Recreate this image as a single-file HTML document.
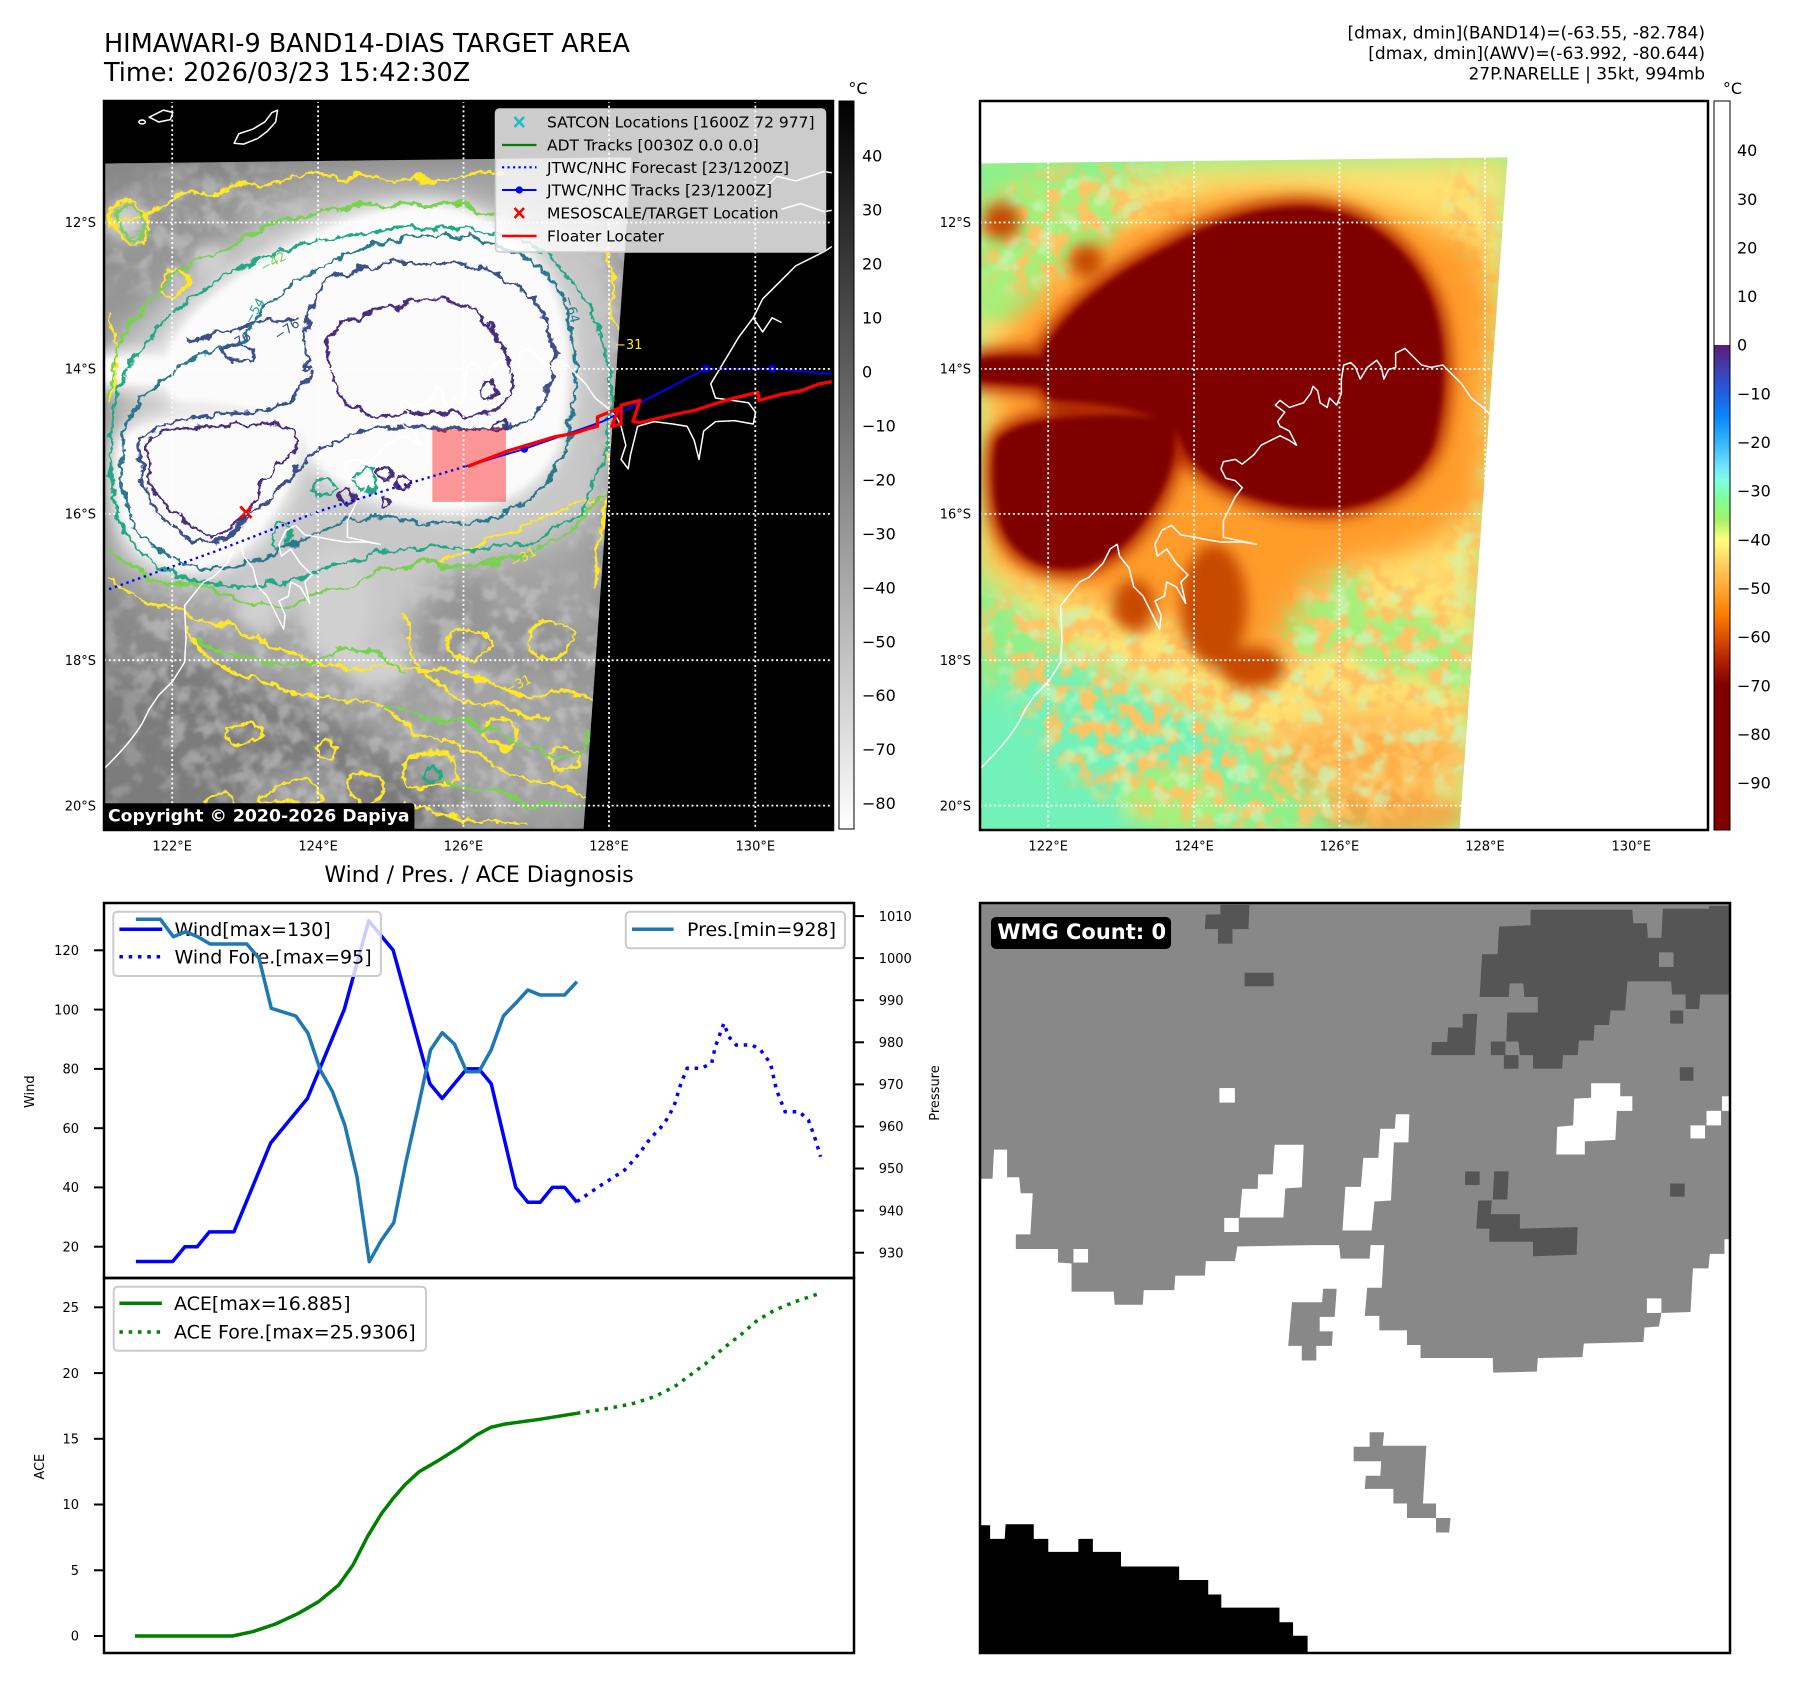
<!DOCTYPE html>
<html><head><meta charset="utf-8"><style>
html,body{margin:0;padding:0;background:#fff;}
svg{display:block;}
text{font-family:"DejaVu Sans","Liberation Sans",sans-serif;}
</style></head><body>
<svg xmlns="http://www.w3.org/2000/svg" width="1797" height="1690" viewBox="0 0 1797 1690">
<defs>
  <filter id="b30" x="-40%" y="-40%" width="180%" height="180%"><feGaussianBlur stdDeviation="30"/></filter>
  <filter id="b15" x="-40%" y="-40%" width="180%" height="180%"><feGaussianBlur stdDeviation="15"/></filter>
  <filter id="b6" x="-20%" y="-20%" width="140%" height="140%"><feGaussianBlur stdDeviation="6"/></filter>
  <filter id="wig" x="-10%" y="-10%" width="120%" height="120%">
    <feTurbulence type="fractalNoise" baseFrequency="0.014" numOctaves="2" seed="3" result="n"/>
    <feDisplacementMap in="SourceGraphic" in2="n" scale="50" xChannelSelector="R" yChannelSelector="G" result="d"/>
    <feTurbulence type="fractalNoise" baseFrequency="0.07" numOctaves="2" seed="8" result="n2"/>
    <feDisplacementMap in="d" in2="n2" scale="16" xChannelSelector="R" yChannelSelector="G"/>
  </filter>
  <filter id="wig2" x="-10%" y="-10%" width="120%" height="120%">
    <feTurbulence type="fractalNoise" baseFrequency="0.03" numOctaves="2" seed="9" result="n"/>
    <feDisplacementMap in="SourceGraphic" in2="n" scale="30" xChannelSelector="R" yChannelSelector="G" result="d"/>
    <feTurbulence type="fractalNoise" baseFrequency="0.08" numOctaves="2" seed="2" result="n2"/>
    <feDisplacementMap in="d" in2="n2" scale="12" xChannelSelector="R" yChannelSelector="G"/>
  </filter>
  <filter id="speckO" x="0" y="0" width="1" height="1">
    <feTurbulence type="fractalNoise" baseFrequency="0.028" numOctaves="3" seed="5"/>
    <feColorMatrix type="matrix" values="0 0 0 0 1  0 0 0 0 0.55  0 0 0 0 0.12  6 0 0 0 -2.7"/>
    <feGaussianBlur stdDeviation="3"/>
  </filter>
  <filter id="speckG" x="0" y="0" width="1" height="1">
    <feTurbulence type="fractalNoise" baseFrequency="0.024" numOctaves="3" seed="11"/>
    <feColorMatrix type="matrix" values="0 0 0 0 0.58  0 0 0 0 0.94  0 0 0 0 0.5  5 0 0 0 -2.6"/>
    <feGaussianBlur stdDeviation="3"/>
  </filter>
  <filter id="speckL" x="0" y="0" width="1" height="1">
    <feTurbulence type="fractalNoise" baseFrequency="0.028" numOctaves="3" seed="5"/>
    <feColorMatrix type="matrix" values="0 0 0 0 0.68  0 0 0 0 0.68  0 0 0 0 0.68  5 0 0 0 -2.4"/>
    <feGaussianBlur stdDeviation="3"/>
  </filter>
  <filter id="speckD" x="0" y="0" width="1" height="1">
    <feTurbulence type="fractalNoise" baseFrequency="0.024" numOctaves="3" seed="11"/>
    <feColorMatrix type="matrix" values="0 0 0 0 0.42  0 0 0 0 0.42  0 0 0 0 0.42  5 0 0 0 -2.5"/>
    <feGaussianBlur stdDeviation="3"/>
  </filter>
  <mask id="mSouth" maskUnits="userSpaceOnUse" x="-300" y="-300" width="2200" height="2200">
    <g fill="#fff" filter="url(#b30)">
      <ellipse cx="620" cy="1260" rx="520" ry="300"/>
      <ellipse cx="1040" cy="600" rx="90" ry="450"/>
      <ellipse cx="250" cy="300" rx="250" ry="150"/>
      <ellipse cx="150" cy="1150" rx="150" ry="120"/>
    </g>
  </mask>
  <mask id="mLow" maskUnits="userSpaceOnUse" x="-300" y="-300" width="2200" height="2200">
    <g fill="#fff" filter="url(#b30)">
      <ellipse cx="350" cy="1350" rx="450" ry="250"/>
      <ellipse cx="800" cy="1450" rx="300" ry="130"/>
      <ellipse cx="300" cy="230" rx="300" ry="80"/>
    </g>
  </mask>
  <linearGradient id="g1" x1="0" y1="0" x2="0" y2="1">
    <stop offset="0" stop-color="#000"/><stop offset="1" stop-color="#fff"/>
  </linearGradient>
  <linearGradient id="g2" x1="0" y1="0" x2="0" y2="1">
    <stop offset="0" stop-color="#fff"/><stop offset="0.3345" stop-color="#fff"/>
    <stop offset="0.3346" stop-color="#5b1a7a"/><stop offset="0.368" stop-color="#3f3fb0"/>
    <stop offset="0.4014" stop-color="#1f5fe0"/><stop offset="0.4347" stop-color="#0a88ff"/>
    <stop offset="0.4681" stop-color="#35b5ff"/><stop offset="0.5015" stop-color="#70e4ff"/>
    <stop offset="0.5215" stop-color="#80ffe0"/><stop offset="0.5482" stop-color="#80ff90"/>
    <stop offset="0.5749" stop-color="#a8f068"/><stop offset="0.6016" stop-color="#ffff80"/>
    <stop offset="0.635" stop-color="#ffd060"/><stop offset="0.6683" stop-color="#ffa838"/>
    <stop offset="0.7017" stop-color="#ff8000"/><stop offset="0.7351" stop-color="#e05000"/>
    <stop offset="0.7685" stop-color="#b02000"/><stop offset="0.8019" stop-color="#800000"/>
    <stop offset="1" stop-color="#800000"/>
  </linearGradient>
  <clipPath id="clipL"><rect x="104" y="101" width="729" height="729"/></clipPath>
  <clipPath id="clipR"><rect x="980" y="101" width="728" height="729"/></clipPath>
  <clipPath id="clipW"><rect x="104" y="903" width="750" height="375"/></clipPath>
  <clipPath id="clipA"><rect x="104" y="1278" width="750" height="375"/></clipPath>
  <clipPath id="clipBR"><rect x="980" y="903" width="750" height="750"/></clipPath>
  <clipPath id="imgClip"><polygon points="0,143 1122,130 1020,1560 0,1560"/></clipPath>

  <path id="zHaloY" d="M0,430 C100,300 250,180 450,150 L1130,130 L1060,1050 C1045,1300 1035,1480 1020,1560 L820,1560 C720,1460 620,1360 470,1300 C320,1250 170,1160 70,1060 L0,1010 Z"/>
  <path id="zHaloO" d="M40,520 C160,380 310,260 500,210 C700,180 900,220 1060,330 L1090,430 L1065,860 C1000,940 900,980 800,990 C700,1000 640,1100 630,1220 C560,1180 460,1130 350,1090 C220,1050 110,1030 30,990 Z"/>
  <g id="zGreen">
    <ellipse cx="710" cy="1080" rx="120" ry="110"/>
    <ellipse cx="900" cy="1160" rx="110" ry="70"/>
    <ellipse cx="1000" cy="1200" rx="60" ry="60"/>
    <ellipse cx="420" cy="1490" rx="120" ry="70"/>
    <ellipse cx="150" cy="280" rx="160" ry="110"/>
    <ellipse cx="60" cy="420" rx="80" ry="60"/>
  </g>
  <g id="zBrown">
    <ellipse cx="500" cy="1080" rx="70" ry="130"/>
    <ellipse cx="580" cy="1210" rx="70" ry="45"/>
    <ellipse cx="330" cy="1080" rx="45" ry="55"/>
    <circle cx="50" cy="265" r="40"/>
    <circle cx="230" cy="350" r="35"/>
  </g>
  <g id="zCore">
    <path d="M150,520 C200,440 300,370 400,320 C480,275 580,235 690,235 C800,238 900,305 950,405 C995,490 995,640 965,740 C935,815 855,865 760,875 C660,880 580,855 520,825 C470,795 430,760 420,700 C340,660 250,650 160,645 C120,620 120,570 150,520 Z"/>
    <path d="M40,730 C75,690 160,680 270,676 C350,676 405,682 420,702 C420,770 400,830 360,888 C318,955 258,1002 190,1002 C112,1002 55,955 40,878 C30,820 30,770 40,730 Z"/>
    <path d="M0,558 C60,548 150,548 205,562 L195,622 C130,614 60,610 0,605 Z"/>
  </g>
  <path id="zCoast" d="M0,1430 C30,1400 60,1370 85,1330 L100,1300 L120,1270 L150,1240 L175,1200 L178,1150 L175,1080 L195,1055 L215,1030 L235,1020 L265,990 L280,960 L295,950 L300,975 L320,1000 L330,1040 L350,1060 L365,1090 L385,1130 L388,1100 L375,1070 L395,1060 L400,1030 L420,1040 L440,1075 L430,1030 L445,1015 L420,990 L400,960 L380,975 L375,950 L390,920 L410,910 L430,930 L460,935 L485,940 L515,945 L560,945 L590,950 L520,935 L520,900 L535,870 L545,850 L560,830 L545,815 L525,810 L515,790 L520,775 L545,770 L560,780 L585,760 L600,740 L620,730 L640,720 L660,730 L675,740 L660,710 L640,700 L635,690 L650,670 L630,655 L640,645 L660,660 L690,650 L705,630 L710,615 L720,625 L725,650 L740,660 L745,640 L760,655 L770,630 L770,600 L775,570 L790,565 L800,575 L810,600 L825,575 L845,560 L855,575 L860,600 L870,580 L885,575 L885,545 L905,535 L920,550 L940,570 L960,575 L985,570 L1005,590 L1025,610 L1045,640 L1070,660 L1090,680 L1100,700 L1110,740 L1100,770 L1115,790 L1120,760 L1135,700 L1170,690 L1210,695 L1240,700 L1255,730 L1265,770 L1275,710 L1300,690 L1340,688 L1380,695 L1385,670 L1370,650 L1300,640 L1290,610 L1320,560 L1350,510 L1380,470 L1400,430 L1440,390 L1470,360 L1500,345 L1530,330 L1560,310"/>
</defs>

<rect x="0" y="0" width="1797" height="1690" fill="#fff"/>

<text x="104" y="52" font-size="25.5" fill="#000">HIMAWARI-9 BAND14-DIAS TARGET AREA</text>
<text x="104" y="81" font-size="25.5" fill="#000">Time: 2026/03/23 15:42:30Z</text>
<g font-size="17" fill="#000" text-anchor="end">
  <text x="1705" y="38.3">[dmax, dmin](BAND14)=(-63.55, -82.784)</text>
  <text x="1705" y="58.9">[dmax, dmin](AWV)=(-63.992, -80.644)</text>
  <text x="1705" y="79.5">27P.NARELLE | 35kt, 994mb</text>
</g>

<!-- ================= TOP-LEFT MAP ================= -->
<g clip-path="url(#clipL)">
  <rect x="104" y="101" width="729" height="729" fill="#000"/>
  <g transform="translate(102,96) scale(0.4719)">
    <g clip-path="url(#imgClip)">
      <rect x="0" y="0" width="1600" height="1600" fill="#898989"/>
      <ellipse cx="230" cy="1430" rx="330" ry="230" fill="#7c7c7c" filter="url(#b30)"/>
      <ellipse cx="700" cy="1480" rx="200" ry="80" fill="#7a7a7a" filter="url(#b30)"/>
      <use href="#zHaloY" fill="#a2a2a2" filter="url(#b30)"/>
      <use href="#zGreen" fill="#969696" filter="url(#b15)"/>
      <rect x="0" y="0" width="1130" height="1560" filter="url(#speckL)" mask="url(#mSouth)" opacity="0.45"/>
      <rect x="0" y="0" width="1130" height="1560" filter="url(#speckD)" mask="url(#mLow)" opacity="0.5"/>
      <use href="#zHaloO" fill="#c8c8c8" filter="url(#b30)"/>
      <use href="#zBrown" fill="#d0d0d0" filter="url(#b15)"/>
      <use href="#zCore" fill="#ececec" stroke="#ececec" stroke-width="36" filter="url(#b15)"/>
      <use href="#zCore" fill="#fbfbfb" filter="url(#b6)"/>
      <g fill="none" stroke-width="6" stroke-linejoin="round">
        <g stroke="#fde725" filter="url(#wig)">
          <path d="M10,290 C80,250 180,200 300,190 C420,180 520,150 640,170 C720,180 780,160 840,165"/>
          <path d="M10,1010 C80,1070 160,1100 230,1110 C330,1150 420,1200 520,1210 C620,1220 700,1190 800,1240 C880,1270 980,1260 1060,1290"/>
          <path d="M180,1130 C220,1200 300,1240 400,1260 C500,1290 560,1250 620,1320 C680,1380 760,1360 820,1420 C900,1470 980,1450 1040,1480"/>
          <path d="M1070,330 C1090,450 1100,600 1080,750 C1070,850 1060,950 1050,1050"/>
          <path d="M700,1000 C760,960 840,950 900,900 C950,860 1000,880 1060,860"/>
          <path d="M30,450 C40,550 30,600 20,650"/>
          <path d="M640,1500 C700,1530 800,1520 900,1540"/>
          <path d="M640,1100 C660,1180 700,1250 760,1280 C820,1300 880,1290 950,1320"/>
          <ellipse cx="60" cy="270" rx="45" ry="40"/>
          <ellipse cx="400" cy="1480" rx="60" ry="25"/>
          <ellipse cx="700" cy="1430" rx="60" ry="40"/>
          <ellipse cx="560" cy="1470" rx="40" ry="30"/>
          <ellipse cx="850" cy="1350" rx="40" ry="30"/>
          <ellipse cx="300" cy="1350" rx="40" ry="30"/>
          <ellipse cx="950" cy="1150" rx="50" ry="40"/>
          <ellipse cx="150" cy="400" rx="30" ry="25"/>
          <ellipse cx="780" cy="1160" rx="40" ry="30"/>
          <ellipse cx="480" cy="1380" rx="25" ry="20"/>
          <ellipse cx="980" cy="1400" rx="35" ry="25"/>
          <ellipse cx="250" cy="1500" rx="30" ry="20"/>
        </g>
        <g stroke="#7ad151" filter="url(#wig)">
          <path d="M15,640 C30,500 120,380 230,330 C330,280 450,240 600,230 C700,225 780,230 840,240"/>
          <path d="M15,960 C120,1040 260,1070 380,1080 C480,1060 560,1000 640,1000 C720,990 800,1010 880,980 C960,950 1040,900 1080,820"/>
          <path d="M200,1150 C300,1200 400,1230 500,1180 C560,1160 600,1200 650,1230"/>
          <path d="M600,1300 C700,1330 800,1320 900,1380 C960,1420 1000,1400 1040,1350"/>
          <path d="M700,1450 C800,1480 900,1500 1030,1510"/>
          <ellipse cx="60" cy="270" rx="35" ry="30"/>
        </g>
        <g stroke="#22a884" filter="url(#wig2)">
          <path d="M20,700 C30,540 180,400 380,330 C540,280 720,260 880,300 C980,340 1050,440 1075,580 C1085,720 1060,840 980,910 C880,980 760,950 640,960 C520,970 420,1040 300,1040 C180,1040 60,990 30,880 C20,820 20,760 20,700 Z"/>
          <ellipse cx="470" cy="830" rx="25" ry="15"/>
          <ellipse cx="560" cy="810" rx="20" ry="25"/>
          <ellipse cx="380" cy="930" rx="20" ry="30"/>
          <ellipse cx="700" cy="1440" rx="20" ry="15"/>
        </g>
        <g stroke="#2a788e" filter="url(#wig2)">
          <path d="M40,760 C40,640 160,560 300,520 C340,420 480,330 640,300 C780,280 900,320 960,400 C1010,480 1010,620 990,720 C960,830 880,890 780,905 C680,915 600,880 520,900 C420,930 350,1000 250,1000 C140,1000 60,930 45,850 C40,820 40,790 40,760 Z"/>
        </g>
        <g stroke="#3b4f8a" filter="url(#wig2)">
          <path d="M75,720 C110,690 200,680 300,670 C380,665 420,640 440,590 C420,520 420,450 480,390 C560,350 680,345 780,360 C880,380 950,450 960,540 C960,620 930,680 870,700 C800,720 720,700 640,700 C560,700 500,730 440,760 C400,820 340,860 300,900 C260,960 200,960 150,910 C100,880 80,820 75,720 Z"/>
          <path d="M180,520 C250,500 330,480 420,470"/>
          <ellipse cx="290" cy="545" rx="35" ry="16"/>
        </g>
        <g stroke="#472d7b" filter="url(#wig2)">
          <path d="M480,510 C520,470 600,450 680,430 C760,420 820,460 850,540 C880,600 880,650 820,670 C760,690 700,650 640,680 C560,690 500,650 490,600 C480,570 475,540 480,510 Z"/>
          <path d="M100,720 C160,700 250,700 330,695 C400,690 420,720 410,740 C380,780 330,820 310,880 C280,920 240,950 200,920 C160,880 110,860 100,800 C95,770 95,740 100,720 Z"/>
          <circle cx="520" cy="850" r="14"/><circle cx="600" cy="800" r="12"/>
          <circle cx="640" cy="820" r="16"/><circle cx="600" cy="860" r="12"/>
          <circle cx="820" cy="620" r="18"/><circle cx="840" cy="700" r="14"/>
        </g>
      </g>
    </g>
    <use href="#zCoast" fill="none" stroke="#fff" stroke-width="3.2" stroke-linejoin="round"/>
    <g fill="none" stroke="#fff" stroke-width="3.2" stroke-linejoin="round">
      <path d="M280,100 L290,80 L320,70 L345,55 L360,35 L372,30 L368,55 L350,75 L330,90 L300,102 Z"/>
      <path d="M100,45 L130,30 L150,35 L145,50 L120,55 Z"/>
      <ellipse cx="85" cy="55" rx="7" ry="4"/>
      <path d="M1400,200 L1430,170 L1470,180 L1500,170 L1530,160 L1560,165"/>
      <path d="M1440,240 L1480,228 L1530,245 L1560,240"/>
      <path d="M1380,470 L1400,500 L1420,470 L1440,480"/>
    </g>
    <rect x="700" y="706" width="156" height="154" fill="#ff0000" fill-opacity="0.4"/>
    <polyline points="15,1045 240,965 460,880 620,830 770,785" fill="none" stroke="#0000ff" stroke-width="5" stroke-dasharray="5 8"/>
    <polyline points="770,785 895,748 1060,690 1140,650 1280,578 1420,578 1560,590" fill="none" stroke="#0000ff" stroke-width="4"/>
    <circle cx="895" cy="748" r="8" fill="#0000ff"/>
    <circle cx="1280" cy="578" r="8" fill="#0000ff"/>
    <circle cx="1420" cy="578" r="8" fill="#0000ff"/>
    <polyline points="775,785 860,752 900,740 960,722 1000,715 1030,705 1050,700 1050,680 1095,662 1080,700 1100,695 1100,655 1140,645 1125,690 1140,692 1200,678 1260,665 1300,652 1340,640 1390,628 1392,645 1440,632 1480,625 1520,610 1560,603" fill="none" stroke="#ff0000" stroke-width="7" stroke-linejoin="round"/>
    <g stroke="#ff0000" stroke-width="6"><line x1="293" y1="870" x2="317" y2="894"/><line x1="317" y1="870" x2="293" y2="894"/></g>
  </g>
  <g font-size="13">
    <text x="225" y="348" fill="#3b4f8a" transform="rotate(-30 235 344)">−76</text>
    <text x="274" y="336" fill="#3b4f8a" transform="rotate(-35 284 332)">−76</text>
    <text x="562" y="308" fill="#2a788e" transform="rotate(75 570 304)">−64</text>
    <text x="615" y="349" fill="#fde725">−31</text>
    <text x="260" y="268" fill="#7ad151" transform="rotate(-30 270 264)">−42</text>
    <text x="244" y="320" fill="#22a884" transform="rotate(-60 252 316)">−54</text>
    <text x="125" y="241" fill="#7ad151" transform="rotate(-20 135 237)">−31</text>
    <text x="510" y="563" fill="#fde725" transform="rotate(-30 521 559)">−31</text>
    <text x="505" y="690" fill="#fde725" transform="rotate(-25 515 686)">−31</text>
  </g>
  <g stroke="#fff" stroke-width="1.8" stroke-dasharray="2 2.7">
    <line x1="172.2" y1="101" x2="172.2" y2="830"/><line x1="318.1" y1="101" x2="318.1" y2="830"/>
    <line x1="463.5" y1="101" x2="463.5" y2="830"/><line x1="609" y1="101" x2="609" y2="830"/>
    <line x1="755.3" y1="101" x2="755.3" y2="830"/>
    <line x1="104" y1="222.5" x2="833" y2="222.5"/><line x1="104" y1="368.9" x2="833" y2="368.9"/>
    <line x1="104" y1="513.9" x2="833" y2="513.9"/><line x1="104" y1="660.2" x2="833" y2="660.2"/>
    <line x1="104" y1="805.6" x2="833" y2="805.6"/>
  </g>
  <rect x="495.5" y="109" width="330" height="143" rx="4" fill="#fff" fill-opacity="0.8" stroke="#cccccc" stroke-width="1.5"/>
  <g stroke="#17becf" stroke-width="2.6"><line x1="514.5" y1="117" x2="524" y2="127"/><line x1="524" y1="117" x2="514.5" y2="127"/></g>
  <line x1="502" y1="145" x2="536.5" y2="145" stroke="#008000" stroke-width="2.2"/>
  <line x1="502" y1="167.3" x2="536.5" y2="167.3" stroke="#0000ff" stroke-width="2.2" stroke-dasharray="2.2 3.3"/>
  <line x1="502" y1="190" x2="536.5" y2="190" stroke="#0000ff" stroke-width="2"/>
  <circle cx="519.3" cy="190" r="3.6" fill="#0000ff"/>
  <g stroke="#ff0000" stroke-width="2.6"><line x1="514.5" y1="208" x2="524" y2="218"/><line x1="524" y1="208" x2="514.5" y2="218"/></g>
  <line x1="502" y1="236" x2="536.5" y2="236" stroke="#ff0000" stroke-width="2.6"/>
  <g font-size="15.5" fill="#000">
    <text x="547" y="127.6">SATCON Locations [1600Z 72 977]</text>
    <text x="547" y="150.6">ADT Tracks [0030Z 0.0 0.0]</text>
    <text x="547" y="172.9">JTWC/NHC Forecast [23/1200Z]</text>
    <text x="547" y="195.6">JTWC/NHC Tracks [23/1200Z]</text>
    <text x="547" y="218.6">MESOSCALE/TARGET Location</text>
    <text x="547" y="241.6">Floater Locater</text>
  </g>
  <rect x="102.4" y="803.3" width="312" height="28" rx="3" fill="#000"/>
  <text x="108" y="821.5" font-size="17.3" font-weight="bold" fill="#fff">Copyright © 2020-2026 Dapiya</text>
</g>
<rect x="104" y="101" width="729" height="729" fill="none" stroke="#000" stroke-width="2.5"/>

<rect x="839" y="101" width="15" height="728" fill="url(#g1)" stroke="#000" stroke-width="1"/>
<text x="858" y="94" font-size="16" text-anchor="middle">°C</text>
<g font-size="16" fill="#000">
  <text x="862" y="161.7">40</text><text x="862" y="215.7">30</text><text x="862" y="269.6">20</text>
  <text x="862" y="323.6">10</text><text x="862" y="377.5">0</text><text x="862" y="431.5">−10</text>
  <text x="862" y="485.4">−20</text><text x="862" y="539.4">−30</text><text x="862" y="593.3">−40</text>
  <text x="862" y="647.3">−50</text><text x="862" y="701.2">−60</text><text x="862" y="755.2">−70</text>
  <text x="862" y="809.1">−80</text>
</g>

<g font-size="13" fill="#000" text-anchor="end">
  <text x="96" y="227.2">12°S</text><text x="96" y="373.6">14°S</text><text x="96" y="518.6">16°S</text>
  <text x="96" y="664.9">18°S</text><text x="96" y="810.3">20°S</text>
  <text x="971" y="227.2">12°S</text><text x="971" y="373.6">14°S</text><text x="971" y="518.6">16°S</text>
  <text x="971" y="664.9">18°S</text><text x="971" y="810.3">20°S</text>
</g>
<g font-size="13" fill="#000" text-anchor="middle">
  <text x="172.2" y="850.7">122°E</text><text x="318.1" y="850.7">124°E</text><text x="463.5" y="850.7">126°E</text>
  <text x="609" y="850.7">128°E</text><text x="755.3" y="850.7">130°E</text>
  <text x="1048.2" y="850.7">122°E</text><text x="1194.1" y="850.7">124°E</text><text x="1339.5" y="850.7">126°E</text>
  <text x="1485" y="850.7">128°E</text><text x="1631.3" y="850.7">130°E</text>
</g>

<!-- ================= TOP-RIGHT MAP ================= -->
<g clip-path="url(#clipR)">
  <rect x="980" y="101" width="728" height="729" fill="#fff"/>
  <g transform="translate(978,96) scale(0.4719)">
    <g clip-path="url(#imgClip)">
      <rect x="0" y="0" width="1600" height="1600" fill="#8ff08a"/>
      <ellipse cx="230" cy="1430" rx="330" ry="230" fill="#72f2b8" filter="url(#b30)"/>
      <use href="#zHaloY" fill="#ffe272" filter="url(#b30)"/>
      <use href="#zGreen" fill="#a6f07a" filter="url(#b15)"/>
      <ellipse cx="830" cy="1400" rx="200" ry="90" fill="#ff9030" opacity="0.6" filter="url(#b30)"/>
      <ellipse cx="880" cy="1520" rx="150" ry="50" fill="#f07a20" opacity="0.5" filter="url(#b15)"/>
      <rect x="0" y="0" width="1130" height="1560" filter="url(#speckO)" mask="url(#mSouth)"/>
      <rect x="0" y="0" width="1130" height="1560" filter="url(#speckG)" mask="url(#mSouth)" opacity="0.7"/>
      <use href="#zHaloO" fill="#ff9c2c" filter="url(#b30)"/>
      <use href="#zBrown" fill="#c84800" filter="url(#b15)"/>
      <use href="#zCore" fill="#b02a00" stroke="#b02a00" stroke-width="36" filter="url(#b15)"/>
      <use href="#zCore" fill="#800000" filter="url(#b6)"/>
    </g>
    <use href="#zCoast" fill="none" stroke="#fff" stroke-width="3.2" stroke-linejoin="round"/>
  </g>
  <g stroke="#fff" stroke-width="1.8" stroke-dasharray="2 2.7">
    <line x1="1048.2" y1="101" x2="1048.2" y2="830"/><line x1="1194.1" y1="101" x2="1194.1" y2="830"/>
    <line x1="1339.5" y1="101" x2="1339.5" y2="830"/><line x1="1485" y1="101" x2="1485" y2="830"/>
    <line x1="1631.3" y1="101" x2="1631.3" y2="830"/>
    <line x1="980" y1="222.5" x2="1708" y2="222.5"/><line x1="980" y1="368.9" x2="1708" y2="368.9"/>
    <line x1="980" y1="513.9" x2="1708" y2="513.9"/><line x1="980" y1="660.2" x2="1708" y2="660.2"/>
    <line x1="980" y1="805.6" x2="1708" y2="805.6"/>
  </g>
</g>
<rect x="980" y="101" width="728" height="729" fill="none" stroke="#000" stroke-width="2.5"/>

<rect x="1714" y="101" width="16" height="729" fill="url(#g2)" stroke="#000" stroke-width="1"/>
<text x="1732.5" y="94" font-size="16" text-anchor="middle">°C</text>
<g font-size="16" fill="#000">
  <text x="1737" y="156.1">40</text><text x="1737" y="204.8">30</text><text x="1737" y="253.4">20</text>
  <text x="1737" y="302.1">10</text><text x="1737" y="350.7">0</text><text x="1737" y="399.4">−10</text>
  <text x="1737" y="448.1">−20</text><text x="1737" y="496.7">−30</text><text x="1737" y="545.4">−40</text>
  <text x="1737" y="594">−50</text><text x="1737" y="642.7">−60</text><text x="1737" y="691.4">−70</text>
  <text x="1737" y="740">−80</text><text x="1737" y="788.7">−90</text>
</g>

<!-- ================= BOTTOM-LEFT ================= -->
<text x="479" y="882" font-size="22" text-anchor="middle">Wind / Pres. / ACE Diagnosis</text>

<g clip-path="url(#clipW)">
  <polyline points="135.9,1261.5 172.7,1261.5 184.9,1246.7 197.2,1246.7 209.4,1231.9 233.9,1231.9 270.7,1143 307.4,1098.5 344.2,1009.6 368.7,920.7 393.2,950.3 429.9,1083.7 442.2,1098.5 466.7,1068.9 478.9,1068.9 491.2,1083.7 515.7,1187.4 527.9,1202.3 540.2,1202.3 552.4,1187.4 564.7,1187.4 576.9,1202.3" fill="none" stroke="#0000ff" stroke-width="3.5" stroke-linejoin="round"/>
  <polyline points="576.9,1201.7 589.1,1193.3 601.4,1185 613.6,1177.3 624.6,1170 633.8,1160 641.8,1150 650.4,1138.3 660.2,1128.3 668.7,1116.7 674.9,1103.3 681,1083.3 687.1,1068.3 701.2,1068.3 711.6,1063.3 715.3,1046.7 723.9,1023.3 728.8,1036.7 736.1,1045 752,1045 760.6,1050 770.4,1063.3 776.5,1090 785.1,1111.7 799.2,1111.7 808.4,1120 814.5,1136.7 820.6,1156.7" fill="none" stroke="#0000ff" stroke-width="3.5" stroke-dasharray="3.5 5.8"/>
  <rect x="113.3" y="911.7" width="267.6" height="64.3" rx="4" fill="#fff" fill-opacity="0.8" stroke="#cccccc" stroke-width="2"/>
  <line x1="119.4" y1="929.3" x2="162.3" y2="929.3" stroke="#0000ff" stroke-width="3.5"/>
  <line x1="119.4" y1="956.7" x2="162.3" y2="956.7" stroke="#0000ff" stroke-width="3.5" stroke-dasharray="3.5 5.8"/>
  <text x="174.5" y="936" font-size="19">Wind[max=130]</text>
  <text x="174.5" y="963.4" font-size="19">Wind Fore.[max=95]</text>
  <polyline points="135.9,919.3 160.4,919.3 173.3,936.7 185.6,931.7 197.8,936.7 210,944 246.8,944 259,958.3 271.3,1008.3 295.8,1016 308,1033.3 320.3,1070 332.5,1091.7 344.8,1125 357,1176.7 369.3,1261.7 381.5,1240 393.8,1222.7 406,1161.7 418.3,1106.7 430.5,1050 442.2,1032.7 454.4,1044 466.6,1071.7 478.9,1071.7 491.1,1050 503.4,1016 515.6,1003.3 527.9,990 540.1,995 564.6,995 576.9,981.7" fill="none" stroke="#1f77b4" stroke-width="3.5" stroke-linejoin="round"/>
  <rect x="625.8" y="911.7" width="219.2" height="36.6" rx="4" fill="#fff" fill-opacity="0.8" stroke="#cccccc" stroke-width="2"/>
  <line x1="632" y1="929.3" x2="673.6" y2="929.3" stroke="#1f77b4" stroke-width="3.5"/>
  <text x="687" y="936" font-size="19">Pres.[min=928]</text>
</g>
<rect x="104" y="903" width="750" height="375" fill="none" stroke="#000" stroke-width="2.5"/>
<g stroke="#000" stroke-width="2">
  <line x1="94" y1="1246.7" x2="104" y2="1246.7"/><line x1="94" y1="1187.4" x2="104" y2="1187.4"/>
  <line x1="94" y1="1128.2" x2="104" y2="1128.2"/><line x1="94" y1="1068.9" x2="104" y2="1068.9"/>
  <line x1="94" y1="1009.6" x2="104" y2="1009.6"/><line x1="94" y1="950.3" x2="104" y2="950.3"/>
  <line x1="854" y1="916.1" x2="864" y2="916.1"/><line x1="854" y1="958.1" x2="864" y2="958.1"/>
  <line x1="854" y1="1000.2" x2="864" y2="1000.2"/><line x1="854" y1="1042.3" x2="864" y2="1042.3"/>
  <line x1="854" y1="1084.4" x2="864" y2="1084.4"/><line x1="854" y1="1126.5" x2="864" y2="1126.5"/>
  <line x1="854" y1="1168.5" x2="864" y2="1168.5"/><line x1="854" y1="1210.6" x2="864" y2="1210.6"/>
  <line x1="854" y1="1252.7" x2="864" y2="1252.7"/>
</g>
<g font-size="13" text-anchor="end">
  <text x="79" y="1251.4">20</text><text x="79" y="1192.1">40</text><text x="79" y="1132.9">60</text>
  <text x="79" y="1073.6">80</text><text x="79" y="1014.3">100</text><text x="79" y="955">120</text>
</g>
<g font-size="13">
  <text x="878.7" y="920.8">1010</text><text x="878.7" y="962.8">1000</text><text x="878.7" y="1004.9">990</text>
  <text x="878.7" y="1047">980</text><text x="878.7" y="1089.1">970</text><text x="878.7" y="1131.2">960</text>
  <text x="878.7" y="1173.2">950</text><text x="878.7" y="1215.3">940</text><text x="878.7" y="1257.4">930</text>
</g>
<text x="34" y="1091.7" font-size="13" text-anchor="middle" transform="rotate(-90 34 1091.7)">Wind</text>
<text x="939" y="1093" font-size="13" text-anchor="middle" transform="rotate(-90 939 1093)">Pressure</text>

<g clip-path="url(#clipA)">
  <polyline points="134.9,1636 232.5,1636 252.6,1631.7 275.5,1624 298.5,1613.3 318.6,1601.7 338.7,1585 353,1565 367.4,1536.7 381.7,1513.3 393.2,1498.3 404.7,1485 419.1,1471.7 439.2,1460 459.2,1447.3 476.5,1435 490.8,1427.3 505.2,1424 539.6,1419.3 576.9,1413.3" fill="none" stroke="#008000" stroke-width="3.5" stroke-linejoin="round"/>
  <polyline points="576.9,1413.3 608.5,1408.3 631.5,1404 654.4,1396.7 674.5,1386.7 688.9,1376 706.1,1363.3 723.3,1348.3 740.5,1335 757.7,1320 775,1310 795,1301.7 818,1294" fill="none" stroke="#008000" stroke-width="3.5" stroke-dasharray="3.5 5.8"/>
  <rect x="113.7" y="1286.7" width="312.3" height="64" rx="4" fill="#fff" fill-opacity="0.8" stroke="#cccccc" stroke-width="2"/>
  <line x1="119.4" y1="1303.3" x2="161.9" y2="1303.3" stroke="#008000" stroke-width="3.5"/>
  <line x1="119.4" y1="1332" x2="161.9" y2="1332" stroke="#008000" stroke-width="3.5" stroke-dasharray="3.5 5.8"/>
  <text x="174" y="1310" font-size="19">ACE[max=16.885]</text>
  <text x="174" y="1338.7" font-size="19">ACE Fore.[max=25.9306]</text>
</g>
<rect x="104" y="1278" width="750" height="375" fill="none" stroke="#000" stroke-width="2.5"/>
<g stroke="#000" stroke-width="2">
  <line x1="94" y1="1636" x2="104" y2="1636"/><line x1="94" y1="1570.3" x2="104" y2="1570.3"/>
  <line x1="94" y1="1504.5" x2="104" y2="1504.5"/><line x1="94" y1="1438.8" x2="104" y2="1438.8"/>
  <line x1="94" y1="1373.1" x2="104" y2="1373.1"/><line x1="94" y1="1307.3" x2="104" y2="1307.3"/>
</g>
<g font-size="13" text-anchor="end">
  <text x="79" y="1640.7">0</text><text x="79" y="1575">5</text><text x="79" y="1509.2">10</text>
  <text x="79" y="1443.5">15</text><text x="79" y="1377.8">20</text><text x="79" y="1312">25</text>
</g>
<text x="44" y="1466.7" font-size="13" text-anchor="middle" transform="rotate(-90 44 1466.7)">ACE</text>

<!-- ================= BOTTOM-RIGHT: WMG ================= -->
<g clip-path="url(#clipBR)">
  <g transform="translate(978,900) scale(0.48469)">
    <rect x="0" y="0" width="1560" height="1560" fill="#fff"/>
    <path fill="#888888" d="M5,5 L1555,5 L1555,700 L1540,700 L1540,730 L1510,730 L1507,760 L1475,760 L1470,850 L1410,852 L1405,880 L1375,882 L1373,912 L1250,915 L1247,943 L1155,945 L1153,973 L1063,975 L1062,945 L913,945 L913,918 L885,918 L885,888 L828,888 L828,858 L798,858 L803,800 L833,800 L838,712 L810,712 L808,740 L748,740 L745,712 L690,712 L535,715 L530,745 L470,745 L468,775 L407,775 L405,805 L342,805 L340,835 L282,835 L280,808 L193,808 L193,750 L165,748 L165,720 L78,720 L78,690 L108,690 L113,605 L88,605 L85,572 L60,572 L60,515 L33,515 L30,575 L0,575 L0,5 Z"/>
    <g fill="#fff">
      <rect x="498" y="388" width="32" height="30"/>
      <rect x="508" y="656" width="30" height="29"/>
      <polygon points="612,505 672,505 668,593 634,595 630,655 540,655 545,596 577,596 578,566 608,566"/>
      <polygon points="862,442 890,442 888,500 858,500 852,620 818,622 812,682 752,682 758,592 790,592 795,532 826,532 830,472 860,472"/>
      <polygon points="1265,378 1325,378 1325,405 1350,405 1350,435 1318,435 1315,495 1252,498 1252,525 1193,525 1195,468 1228,465 1230,410 1265,408"/>
      <rect x="1503" y="435" width="30" height="30"/>
      <rect x="1470" y="465" width="30" height="27"/>
      <rect x="1380" y="822" width="30" height="30"/>
      <rect x="197" y="720" width="30" height="28"/>
      <rect x="1535" y="405" width="20" height="30"/>
    </g>
    <g fill="#888888">
      <polygon points="712,802 740,802 736,860 705,860 705,890 732,890 730,920 698,920 698,950 668,950 668,920 640,920 648,830 710,830"/>
      <polygon points="808,1098 838,1098 835,1126 925,1126 918,1245 945,1245 945,1275 975,1275 972,1305 945,1305 945,1275 885,1275 885,1245 857,1245 857,1215 798,1215 800,1188 830,1188 832,1158 775,1158 775,1128 808,1128"/>
    </g>
    <g fill="#555555">
      <polygon points="500,10 560,10 558,60 525,60 525,90 495,90 495,60 468,60 470,30 500,30"/>
      <rect x="550" y="150" width="60" height="28"/>
      <polygon points="1140,20 1350,20 1352,48 1380,48 1382,78 1410,78 1413,18 1508,18 1508,12 1555,12 1555,195 1490,195 1488,225 1460,225 1460,195 1432,195 1430,168 1340,168 1335,228 1305,228 1302,258 1272,258 1270,290 1240,290 1237,320 1207,320 1205,348 1145,348 1145,320 1118,320 1115,292 1090,292 1092,232 1155,232 1155,200 1127,200 1125,172 1097,172 1095,200 1035,200 1040,112 1072,112 1075,55 1140,52"/>
      <polygon points="1000,235 1030,235 1025,320 935,320 937,293 968,293 970,263 1000,263"/>
      <rect x="1058" y="292" width="30" height="28"/>
      <rect x="1085" y="320" width="30" height="28"/>
      <rect x="1448" y="345" width="28" height="28"/>
      <rect x="1428" y="228" width="27" height="27"/>
      <rect x="1428" y="585" width="30" height="27"/>
      <rect x="1005" y="560" width="30" height="28"/>
      <polygon points="1065,560 1095,560 1092,618 1062,618"/>
      <polygon points="1032,620 1060,620 1058,648 1118,648 1118,678 1237,675 1235,732 1145,735 1145,705 1055,705 1055,678 1028,678"/>
    </g>
    <rect x="1405" y="108" width="30" height="30" fill="#888888"/>
    <polygon fill="#000" points="0,1290 25,1290 25,1318 55,1318 57,1288 115,1288 115,1318 145,1318 145,1345 207,1345 207,1318 237,1318 237,1345 295,1345 295,1375 415,1375 415,1403 475,1403 475,1433 502,1433 502,1460 622,1460 622,1490 650,1490 650,1518 680,1518 680,1560 0,1560"/>
  </g>
</g>
<rect x="980" y="903" width="750" height="750" fill="none" stroke="#000" stroke-width="2.5"/>
<rect x="991" y="917" width="180" height="32" rx="5" fill="#000"/>
<text x="997.4" y="938.8" font-size="21" font-weight="bold" fill="#fff">WMG Count: 0</text>

</svg>
</body></html>
